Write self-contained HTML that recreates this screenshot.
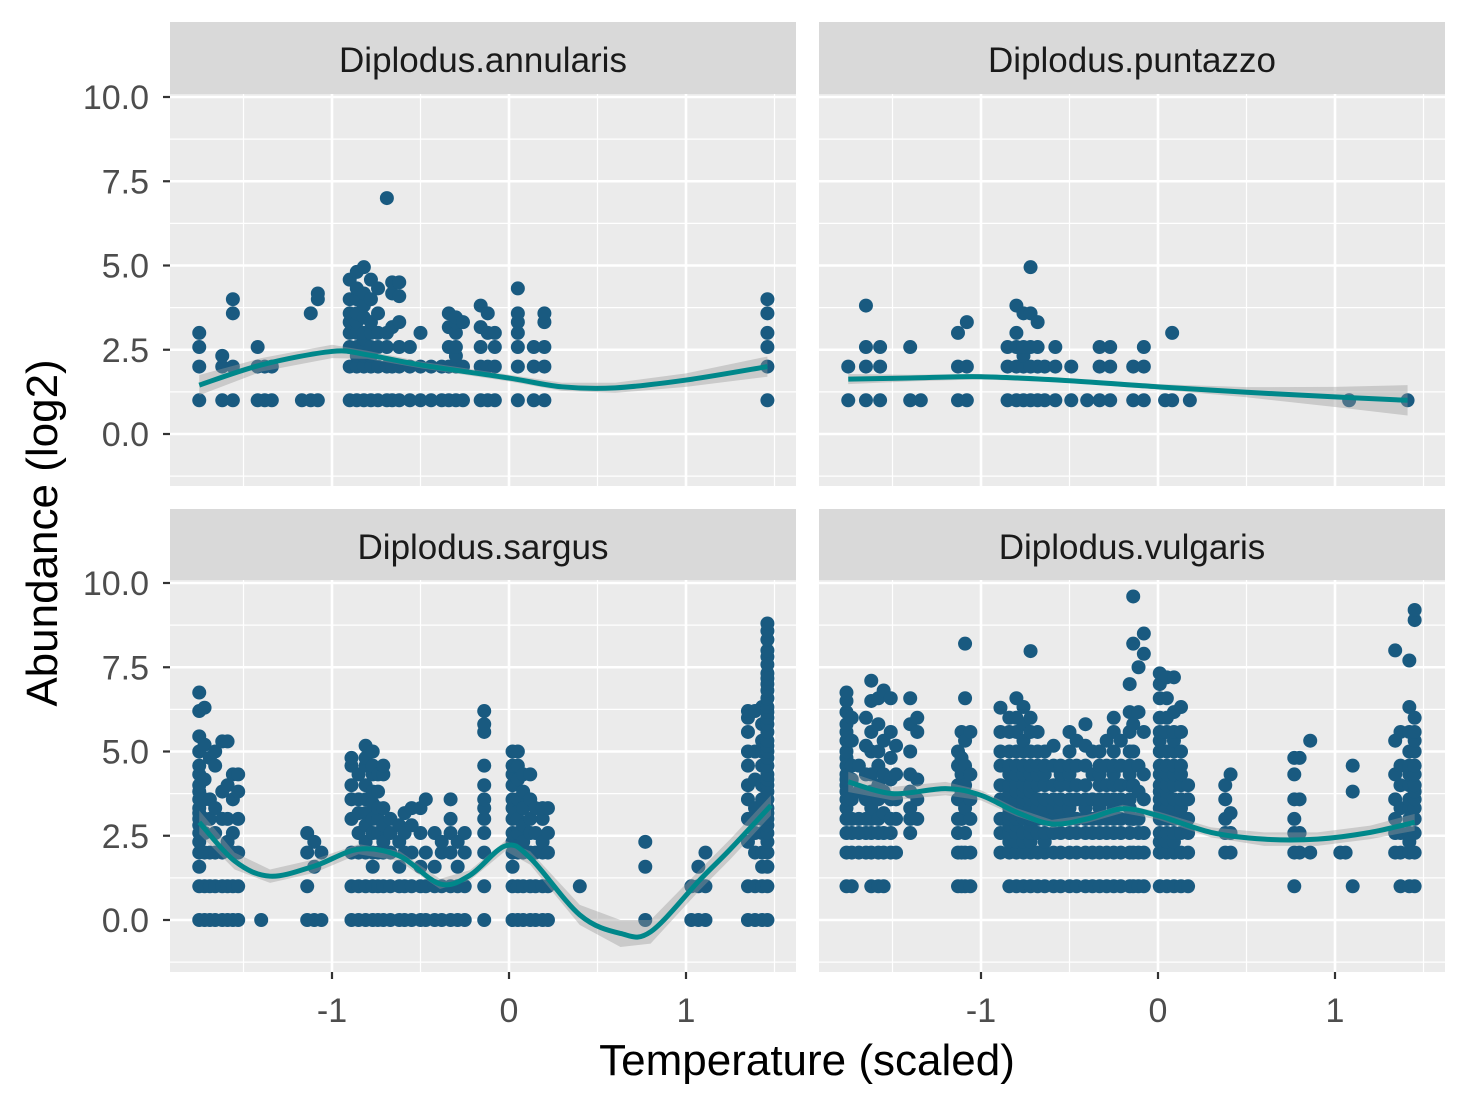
<!DOCTYPE html>
<html><head><meta charset="utf-8"><style>
html,body{margin:0;padding:0;background:#fff;}
svg{display:block;font-family:"Liberation Sans",Arial,sans-serif;}
</style></head><body>
<svg id="chart" width="1468" height="1106" viewBox="0 0 1468 1106"></svg>
<script>
// ---- data ----
const panelNames = ["Diplodus.annularis","Diplodus.puntazzo","Diplodus.sargus","Diplodus.vulgaris"];
const xTicks = [-1,0,1];
const xTickLabels = ["-1","0","1"];
const yTicks = [0,2.5,5,7.5,10];
const yTickLabels = ["0.0","2.5","5.0","7.5","10.0"];

const ptsAnnularis = [
[-1.75,[1,2,2.58,3]],[-1.62,[1,2,2.32]],[-1.56,[1,2,3.58,4]],[-1.42,[1,2,2.58]],[-1.38,[1,2]],[-1.34,[1,2]],
[-1.17,[1]],[-1.12,[1,3.58]],[-1.08,[1,4,4.17]],[-0.9,[1,2,2.58,3,3.32,3.58,4,4.58]],
[-0.86,[1,2,2.32,2.58,3,3.32,3.58,4,4.32,4.81]],[-0.82,[1,2,2.32,2.58,2.81,3,3.46,3.81,4.17,4.95]],
[-0.78,[1,2,2.32,2.58,3,3.32,4,4.58]],[-0.74,[1,2,2.58,3,3.58,4.32]],[-0.69,[1,2,2.58,3,7]],
[-0.66,[1,2,3.17,4.17,4.5]],[-0.62,[1,2,2.58,3.32,4.09,4.5]],[-0.56,[1,2,2.58]],[-0.5,[1,2,3]],
[-0.44,[1,2]],[-0.38,[1,2]],[-0.34,[1,2,2.58,3.17,3.58]],[-0.3,[1,2,2.32,2.58,3,3.32,3.46]],
[-0.26,[1,2,3.32]],[-0.16,[1,2,2.58,3.17,3.81]],[-0.12,[1,2,3,3.58]],[-0.08,[1,2,2.58,3]],
[0.05,[1,2,2.58,3,3.32,3.58,4.32]],[0.14,[1,2,2.58]],[0.2,[1,2,2.58,3.32,3.58]],[1.46,[1,2,2.58,3,3.58,4]]
];
const ptsPuntazzo = [
[-1.75,[1,2]],[-1.65,[1,2,2.58,3.81]],[-1.57,[1,2,2.58]],[-1.4,[1,2.58]],[-1.34,[1]],[-1.13,[1,2,3]],
[-1.08,[1,2,3.32]],[-0.85,[1,2,2.58]],[-0.8,[1,2,2.58,3,3.81]],[-0.76,[1,2,2.32,2.58,3.58]],
[-0.72,[1,2,2.58,3.58,4.95]],[-0.68,[1,2,2.58,3.32]],[-0.64,[1,2]],[-0.58,[1,2,2.58]],[-0.49,[1,2]],
[-0.4,[1]],[-0.33,[1,2,2.58]],[-0.27,[1,2,2.58]],[-0.14,[1,2]],[-0.08,[1,2,2.58]],[0.04,[1]],
[0.08,[1,3]],[0.18,[1]],[1.08,[1]],[1.41,[1]]
];
const ptsSargus = [
[-1.75,[0,1,1.58,2,2.32,2.58,2.81,3,3.17,3.32,3.58,3.81,4,4.32,4.58,5,5.45,6.2,6.75]],
[-1.72,[0,1,2,2.58,3,3.58,4.17,5.2,6.3]],[-1.69,[0,1,2,3,3.58,4.81]],[-1.66,[0,1,2,2.58,3.32,4.58,5]],
[-1.62,[0,1,2,3,3.81,5.3]],[-1.59,[0,1,2.32,3,4,5.3]],[-1.56,[0,1,2,2.58,3.58,4.32]],
[-1.53,[0,1,2,3,3.81,4.32]],[-1.4,[0]],[-1.14,[0,1,2,2.58]],[-1.1,[0,1.58,2.32]],[-1.06,[0,2]],
[-0.89,[0,1,2,3,3.58,4,4.58,4.81]],[-0.85,[0,1,2,2.58,3.17,3.58,4.32]],
[-0.81,[0,1,2,2.32,2.81,3.17,3.58,4,4.58,4.81,5.17]],[-0.77,[0,1,1.58,2,2.58,3,3.46,3.81,4.32,4.58,5]],
[-0.74,[0,1,2,2.58,3,3.32,3.81,4.32]],[-0.71,[0,1,2,2.32,2.81,3.32,4.32,4.58]],[-0.67,[0,1,2,2.58,3]],
[-0.62,[0,1,1.58,2.32,2.81]],[-0.59,[0,1,2,2.58,3.17]],[-0.55,[0,1,2,2.81,3.32]],[-0.5,[0,1,1.58,2.58,3.32]],
[-0.47,[0,1,2,3.58]],[-0.42,[0,1,1.58,2.58]],[-0.38,[0,1,2,2.32]],[-0.33,[0,1,2,2.58,3,3.58]],
[-0.29,[0,1,1.58,2.32]],[-0.25,[0,1,2,2.58]],[-0.14,[0,1,2,2.58,3,3.32,3.58,4,4.58,5.58,5.81,6.2]],
[0.02,[0,1,1.58,2,2.32,2.58,3,3.32,3.58,4,4.32,4.58,5]],[0.05,[0,1,2,2.58,3,3.58,4.17,4.58,5]],
[0.08,[0,1,2,2.32,2.81,3.32,3.81,4.32]],[0.12,[0,1,2,2.58,3,3.58,4.32]],[0.15,[0,1,2,2.58,3.32]],
[0.19,[0,1,2,2.32,3,3.32]],[0.22,[0,1,2,2.58,3.32]],[0.4,[1]],[0.77,[0,1.58,2.32]],
[1.03,[0,1]],[1.07,[0,1,1.58]],[1.11,[0,1,2]],
[1.35,[0,1,2.32,3,3.58,4,4.58,5,5.58,6,6.2]],[1.39,[0,1,2,2.58,3,3.32,4.17,5,6.2]],
[1.43,[0,1,1.58,2,2.58,3,3.58,4,4.58,5,5.32,5.81,6.32]],
[1.46,[0,1,1.58,2,2.32,2.58,2.81,3,3.17,3.32,3.58,3.81,4,4.17,4.32,4.58,4.81,5,5.17,5.32,5.58,5.81,6,6.17,6.32,6.58,6.81,7,7.17,7.32,7.58,7.81,8,8.32,8.58,8.8]]
];
const ptsVulgaris = [
[-1.76,[1,2,2.58,3,3.32,3.58,3.81,4,4.17,4.32,4.58,4.81,5,5.32,5.58,5.81,6.17,6.5,6.75]],
[-1.73,[1,2,2.58,3,3.58,4.17,4.58,5.32,6]],[-1.69,[2,2.58,3,3.81,4.58]],[-1.65,[2,2.58,3,3.58,4.32,5.17,6]],
[-1.62,[1,2,2.58,3,3.32,3.81,4.32,5,5.58,6.5,7.1]],[-1.58,[1,2,2.58,3,3.58,4,4.58,5,5.81,6.58]],
[-1.55,[1,2,2.58,3.17,3.81,4.32,5.32,6.81]],[-1.51,[2,2.58,3,3.58,4.17,4.81,5.58,6.58]],
[-1.48,[2,3,3.58,4.32,5.17]],[-1.4,[2.58,3,3.32,3.81,4.32,5,5.81,6.58]],[-1.36,[3,3.58,4.17,5.58,6]],
[-1.13,[1,2,2.58,3,3.58,4,4.58,5]],[-1.11,[1,2,3,3.81,4.32,4.81,5.58]],
[-1.09,[1,2,2.58,3.32,4,4.58,5.32,6.58,8.2]],[-1.06,[1,2,3,3.58,4.32,5.58]],
[-0.89,[2,2.58,3,3.58,4,4.58,5,5.58,6.3]],
[-0.84,[1,2,2.32,2.58,2.81,3,3.17,3.32,3.58,3.81,4,4.32,4.58,5,5.58,6]],
[-0.8,[1,2,2.32,2.58,2.81,3,3.17,3.32,3.46,3.58,3.81,4,4.32,4.58,5,5.58,6,6.58]],
[-0.76,[1,2,2.32,2.58,3,3.32,3.58,3.81,4,4.32,4.58,5,5.32,5.81,6.32]],
[-0.72,[1,2,2.32,2.58,2.81,3,3.17,3.32,3.58,3.81,4,4.32,4.58,5,5.58,6,7.98]],
[-0.68,[1,2,2.58,3,3.32,3.58,4,4.32,4.58,5,5.58]],
[-0.64,[1,2,2.32,2.58,3,3.32,3.58,4,4.32,4.58,5]],
[-0.59,[1,2,2.58,3,3.32,3.58,4,4.58,5.17]],[-0.55,[1,2,2.58,3,3.32,3.58,4,4.32,4.58]],
[-0.5,[1,2,2.58,3,3.32,3.58,4,4.32,4.58,5,5.58]],[-0.46,[1,2,2.58,3,3.58,4,4.58,5.32]],
[-0.41,[1,2,2.58,3,3.32,3.58,4,4.58,5.17,5.81]],[-0.37,[1,2,2.58,3,3.58,4.32,5]],
[-0.33,[1,2,2.58,3,3.32,3.58,4,4.32,4.58,5]],[-0.29,[1,2,2.58,3,3.58,4,4.58,5.32]],
[-0.25,[1,2,2.58,3,3.32,3.58,4,4.32,4.58,5,5.58,6]],[-0.21,[1,2,2.58,3,3.58,4,4.58,5.32]],
[-0.16,[1,2,2.58,3,3.32,3.58,4,4.32,4.58,5,5.58,6.17,7]],[-0.14,[1,2,3,4,5,5.81,8.2,9.6]],
[-0.11,[1,2,2.58,3,3.81,4.58,6.17,7.5]],[-0.08,[1,2,2.58,3.58,4.32,5.58,7.9,8.5]],
[0.01,[1,2,2.32,2.58,3,3.32,3.58,3.81,4,4.32,4.58,5,5.32,5.58,6,6.58,7,7.32]],
[0.05,[1,2,2.32,2.58,3,3.32,3.58,3.81,4,4.32,4.58,5,5.58,6,6.58,7.2]],
[0.09,[1,2,2.32,2.58,3,3.32,3.58,4,4.32,4.58,5,5.32,5.58,6.17,7.2]],
[0.13,[1,2,2.58,3,3.32,3.58,4,4.32,4.58,5,5.58,6.32]],[0.17,[1,2,2.58,3,3.58,4]],
[0.38,[2,2.58,3,3.58,4]],[0.41,[2,2.58,3.17,4.32]],
[0.77,[1,2,2.58,3,3.58,4.32,4.81]],[0.8,[2,2.58,3.58,4.81]],[0.86,[2,5.32]],
[1.03,[2]],[1.06,[2]],[1.1,[1,3.81,4.58]],
[1.34,[2,2.58,3,3.58,4.32,5.32,8]],[1.37,[1,2,2.58,3.32,4,4.58,5.58]],
[1.42,[1,2,2.32,2.58,3,3.32,3.58,4,4.32,4.58,5,5.58,6.32,7.7]],
[1.45,[1,2,2.58,3,3.32,3.58,3.81,4,4.32,4.58,5,5.32,5.58,6,8.9,9.2]]
];
const smoothX_annularis = [-1.75,-1.4,-1,-0.8,-0.5,0,0.3,0.6,1,1.46];
const smoothY_annularis = [1.45,2.05,2.45,2.35,2.05,1.66,1.4,1.37,1.6,2.0];
const smoothSE_annularis = [0.3,0.2,0.2,0.12,0.1,0.1,0.12,0.15,0.2,0.3];
const smoothX_puntazzo = [-1.75,-1.4,-1,-0.5,0,0.5,1,1.41];
const smoothY_puntazzo = [1.63,1.66,1.7,1.58,1.4,1.24,1.1,1.0];
const smoothSE_puntazzo = [0.15,0.1,0.08,0.06,0.08,0.15,0.3,0.45];
const smoothX_sargus = [-1.75,-1.55,-1.35,-1.1,-0.85,-0.62,-0.39,-0.22,-0.02,0.12,0.4,0.63,0.8,1.08,1.25,1.48];
const smoothY_sargus = [2.9,1.75,1.3,1.6,2.1,1.9,1.07,1.33,2.2,1.84,0.15,-0.4,-0.35,1.2,2.1,3.4];
const smoothSE_sargus = [0.35,0.25,0.2,0.2,0.15,0.15,0.15,0.15,0.15,0.2,0.3,0.4,0.35,0.3,0.3,0.3];
const smoothX_vulgaris = [-1.75,-1.5,-1.2,-1,-0.8,-0.6,-0.4,-0.2,0,0.3,0.6,0.9,1.2,1.45];
const smoothY_vulgaris = [4.1,3.75,3.9,3.7,3.2,2.85,3.0,3.3,3.1,2.6,2.4,2.4,2.6,2.9];
const smoothSE_vulgaris = [0.3,0.2,0.2,0.15,0.12,0.12,0.12,0.12,0.12,0.15,0.2,0.2,0.2,0.25];

const panels = [
 {name:panelNames[0],key:"annularis",pts:ptsAnnularis,sx:smoothX_annularis,sy:smoothY_annularis,se:smoothSE_annularis,x0:170,strip:22,top:94,bottom:486,ytick:true,xtick:false},
 {name:panelNames[1],key:"puntazzo",pts:ptsPuntazzo,sx:smoothX_puntazzo,sy:smoothY_puntazzo,se:smoothSE_puntazzo,x0:819,strip:22,top:94,bottom:486,ytick:false,xtick:false},
 {name:panelNames[2],key:"sargus",pts:ptsSargus,sx:smoothX_sargus,sy:smoothY_sargus,se:smoothSE_sargus,x0:170,strip:509,top:580,bottom:972,ytick:true,xtick:true},
 {name:panelNames[3],key:"vulgaris",pts:ptsVulgaris,sx:smoothX_vulgaris,sy:smoothY_vulgaris,se:smoothSE_vulgaris,x0:819,strip:509,top:580,bottom:972,ytick:false,xtick:true}
];
const W = 626, XPX = 177, YPX = 33.7;
const NS = "http://www.w3.org/2000/svg";
const svg = document.getElementById('chart');
function mk(tag, attrs, parent){const e=document.createElementNS(NS,tag);for(const k in attrs)e.setAttribute(k,attrs[k]);(parent||svg).appendChild(e);return e;}

panels.forEach(p=>{
  const xs = v => p.x0 + 339 + v*XPX;
  const ys = v => p.top + 340 - v*YPX;
  const g = mk('g',{});
  
  
  const bg = mk('rect',{x:p.x0,y:p.top,width:W,height:p.bottom-p.top,fill:'#ebebeb'},g);
  
  
  [-1.25,1.25,3.75,6.25,8.75].forEach(v=>{mk('line',{x1:p.x0,x2:p.x0+W,y1:ys(v),y2:ys(v),stroke:'#fff','stroke-width':1.2},g);});
  [-1.5,-0.5,0.5,1.5].forEach(v=>{mk('line',{x1:xs(v),x2:xs(v),y1:p.top,y2:p.bottom,stroke:'#fff','stroke-width':1.2},g);});
  yTicks.forEach(v=>{const l=mk('line',{x1:p.x0,x2:p.x0+W,y1:ys(v),y2:ys(v),stroke:'#fff','stroke-width':2.6},g);});
  xTicks.forEach(v=>{const l=mk('line',{x1:xs(v),x2:xs(v),y1:p.top,y2:p.bottom,stroke:'#fff','stroke-width':2.6},g);});
  const pg = mk('g',{fill:'#195a80'},g);
  
  
  p.pts.forEach(col=>{col[1].forEach(v=>{
    const c=mk('circle',{cx:xs(col[0]),cy:ys(v),r:7},pg);
    
    
  });});
  let up='',lo='';
  p.sx.forEach((x,i)=>{up+=(i?'L':'M')+xs(x)+','+ys(p.sy[i]+p.se[i]);});
  for(let i=p.sx.length-1;i>=0;i--){lo+='L'+xs(p.sx[i])+','+ys(p.sy[i]-p.se[i]);}
  const rb=mk('path',{d:up+lo+'Z',fill:'#999','fill-opacity':0.4},g);
  
  
  const P=p.sx.map((x,i)=>[xs(x),ys(p.sy[i])]);
  let d='M'+P[0][0]+','+P[0][1];
  for(let i=0;i<P.length-1;i++){const p0=P[Math.max(0,i-1)],p1=P[i],p2=P[i+1],p3=P[Math.min(P.length-1,i+2)];
    d+='C'+(p1[0]+(p2[0]-p0[0])/6)+','+(p1[1]+(p2[1]-p0[1])/6)+' '+(p2[0]-(p3[0]-p1[0])/6)+','+(p2[1]-(p3[1]-p1[1])/6)+' '+p2[0]+','+p2[1];}
  const ln=mk('path',{d:d,fill:'none',stroke:'#00878a','stroke-width':5},g);
  
  
  const st=mk('rect',{x:p.x0,y:p.strip,width:W,height:p.top-p.strip,fill:'#d9d9d9'},g);
  
  
  const tt=mk('text',{x:p.x0+W/2,y:p.strip+50,'text-anchor':'middle','font-size':35,fill:'#1a1a1a'},g);
  tt.textContent=p.name;
  
  
  if(p.ytick){yTicks.forEach((v,i)=>{
    mk('line',{x1:p.x0-7,x2:p.x0,y1:ys(v),y2:ys(v),stroke:'#333','stroke-width':2.2},g);
    const t=mk('text',{x:p.x0-21,y:ys(v)+12,'text-anchor':'end','font-size':34,fill:'#4d4d4d'},g);
    t.textContent=yTickLabels[i];
    
    
  });}
  if(p.xtick){xTicks.forEach((v,i)=>{
    mk('line',{x1:xs(v),x2:xs(v),y1:p.bottom,y2:p.bottom+7,stroke:'#333','stroke-width':2.2},g);
    const t=mk('text',{x:xs(v),y:p.bottom+50,'text-anchor':'middle','font-size':34,fill:'#4d4d4d'},g);
    t.textContent=xTickLabels[i];
    
    
  });}
});
const xt=mk('text',{x:807,y:1075,'text-anchor':'middle','font-size':44,fill:'#000'});
xt.textContent='Temperature (scaled)';


const yt=mk('text',{x:0,y:0,'text-anchor':'middle','font-size':44,fill:'#000',transform:'translate(57,533) rotate(-90)'});
yt.textContent='Abundance (log2)';


</script>
</body></html>
